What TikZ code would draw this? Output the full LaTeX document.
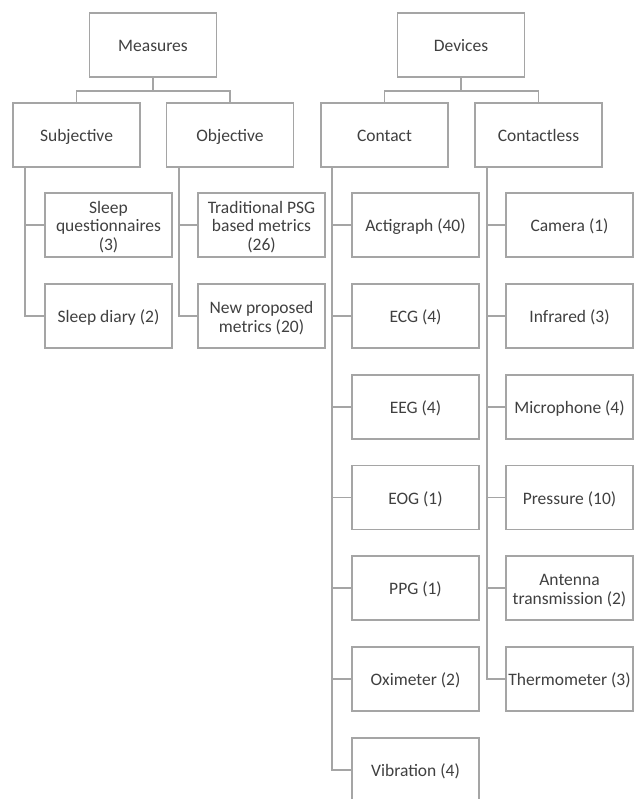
\documentclass[tikz,border=0pt]{standalone}
\usepackage{fontspec}
\setmainfont{Carlito}
\definecolor{linegray}{RGB}{165,165,165}
\definecolor{textgray}{RGB}{64,64,64}
\tikzset{box/.style={draw=linegray, line width=1.6pt, fill=white, text=textgray,
	minimum width=127pt, minimum height=64pt, align=center, inner sep=1pt,
	font=\fontsize{17.5}{18.5}\selectfont,
	execute at begin node={\vrule width 0pt height 18pt depth 5pt}}}
\tikzset{link/.style={draw=linegray, line width=1.6pt}}
\newcommand{\topgap}{\rule{0pt}{19pt}}

\begin{document}
\begin{tikzpicture}[x=1pt,y=-1pt]
	\useasboundingbox (0,0) rectangle (634,799);
	
	\node [box] (measures) at (153,45) {Measures};
	\node [box] (devices) at (461,45) {Devices};
	
	\node [box] (subj) at (76.5,135) {Subjective};
	\node [box] (obj) at (230,135) {Objective};
	\node [box] (contact) at (384.5,135) {Contact};
	\node [box] (contactless) at (538.5,135) {Contactless};
	
	\node [box] (quest) at (108.5,225) {\topgap Sleep\\questionnaires\\(3)};
	\node [box] (diary) at (108.5,316) {Sleep diary (2)};
	
	\node [box] (psg) at (261.5,225) {\topgap Traditional PSG\\based metrics\\(26)};
	\node [box] (newm) at (261.5,316) {\topgap New proposed\\metrics (20)};
	
	\node [box] (acti) at (415.5,225) {Actigraph (40)};
	\node [box] (ecg) at (415.5,316) {ECG (4)};
	\node [box] (eeg) at (415.5,407) {EEG (4)};
	\node [box] (eog) at (415.5,497.5) {EOG (1)};
	\node [box] (ppg) at (415.5,588) {PPG (1)};
	\node [box] (oxi) at (415.5,679) {Oximeter (2)};
	\node [box] (vib) at (415.5,770) {Vibration (4)};
	
	\node [box] (camera) at (569.5,225) {Camera (1)};
	\node [box] (infra) at (569.5,316) {Infrared (3)};
	\node [box] (micro) at (569.5,407) {Microphone (4)};
	\node [box] (press) at (569.5,497.5) {Pressure (10)};
	\node [box] (antenna) at (569.5,588) {\topgap Antenna\\transmission (2)};
	\node [box] (thermo) at (569.5,679) {Thermometer (3)};
	
	% top level links
	\draw [link] (measures.south) -- ++(0,13) -| (subj.north);
	\draw [link] (measures.south) -- ++(0,13) -| (obj.north);
	\draw [link] (devices.south) -- ++(0,13) -| (contact.north);
	\draw [link] (devices.south) -- ++(0,13) -| (contactless.north);
	
	% side links
	\foreach \c in {quest,diary}
		\draw [link] ([xshift=13pt]subj.south west) |- (\c.west);
	\foreach \c in {psg,newm}
		\draw [link] ([xshift=13pt]obj.south west) |- (\c.west);
	\foreach \c in {acti,ecg,eeg,eog,ppg,oxi,vib}
		\draw [link] ([xshift=12pt]contact.south west) |- (\c.west);
	\foreach \c in {camera,infra,micro,press,antenna,thermo}
		\draw [link] ([xshift=13pt]contactless.south west) |- (\c.west);
\end{tikzpicture}
\end{document}
